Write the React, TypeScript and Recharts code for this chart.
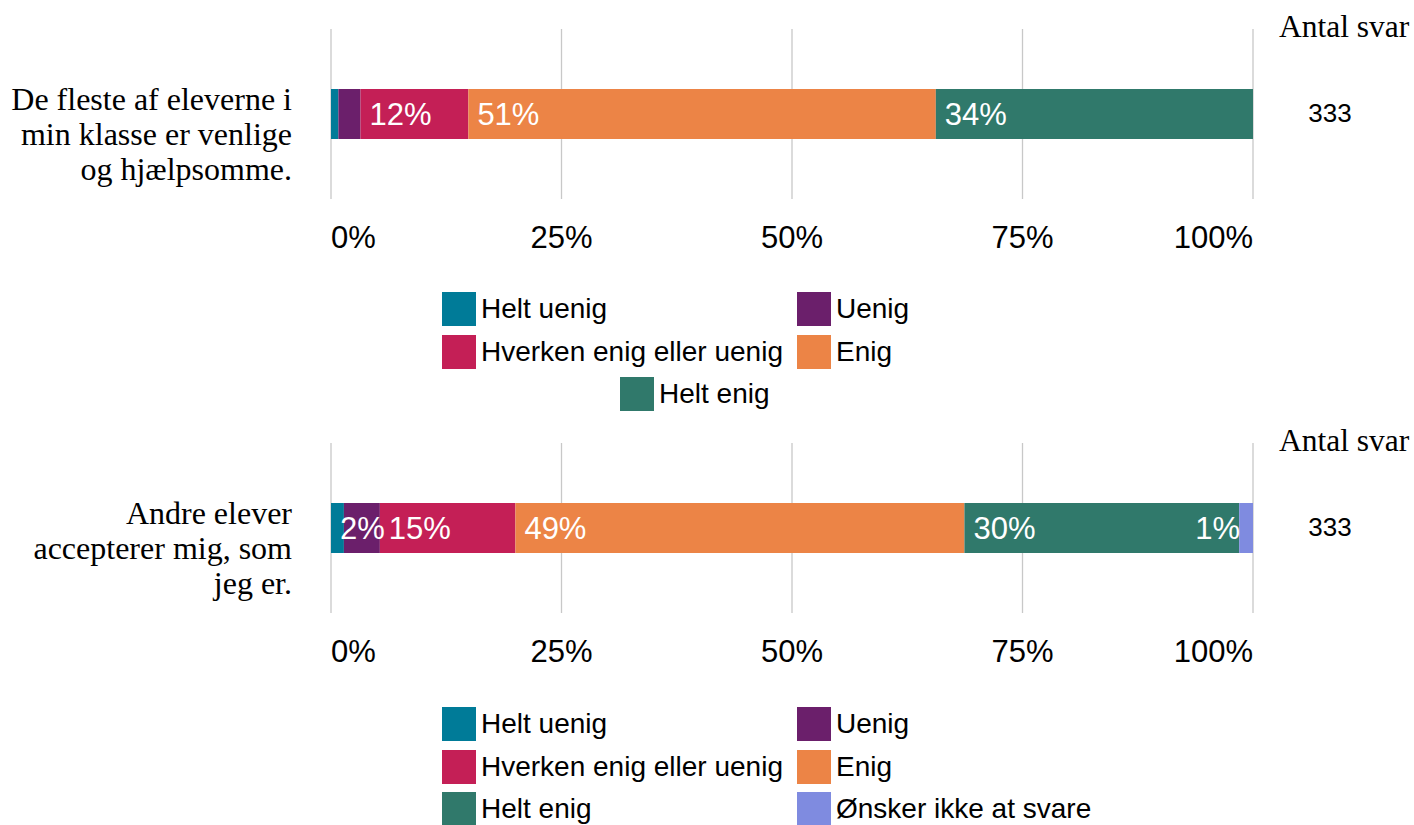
import React from "react";
import { BarChart, Bar, XAxis, YAxis, CartesianGrid, LabelList } from "recharts";

const SANS = "'Liberation Sans', Arial, sans-serif";
const SERIF = "'Liberation Serif', 'Times New Roman', serif";

const seriesNames = [
  "Helt uenig",
  "Uenig",
  "Hverken enig eller uenig",
  "Enig",
  "Helt enig",
  "Ønsker ikke at svare",
];
const seriesColors = ["#007B98", "#6B1F6B", "#C41F56", "#EC8446", "#30796B", "#7F8BE0"];

const xTicks = [0, 25, 50, 75, 100];

const q1Lines = ["De fleste af eleverne i", "min klasse er venlige", "og hjælpsomme."];
const q1Values = [0.8, 2.4, 11.7, 50.7, 34.4];
const q1Labels = ["", "", "12%", "51%", "34%"];
const q1Count = 333;

const q2Lines = ["Andre elever", "accepterer mig, som", "jeg er."];
const q2Values = [1.4, 3.9, 14.7, 48.7, 29.8, 1.5];
const q2Labels = ["2%", "", "15%", "49%", "30%", "1%"];
const q2Count = 333;

const W = 1414;
const PLOT_LEFT = 331;
const PLOT_RIGHT = 1253;

function XTick(props: any) {
  const { x, y, payload, index } = props;
  const anchor = index === 0 ? "start" : index === xTicks.length - 1 ? "end" : "middle";
  return (
    <text x={x} y={y + 38} textAnchor={anchor} dominantBaseline="central" fill="#000" fontSize={31} fontFamily={SANS}>
      {payload.value}%
    </text>
  );
}

function StackedQuestion({
  top,
  lines,
  values,
  labels,
  count,
  legendTop,
}: {
  top: number;
  lines: string[];
  values: number[];
  labels: string[];
  count: number;
  legendTop: number;
}) {
  const keys = values.map((_, i) => `s${i}`);
  const row: Record<string, any> = { name: lines.join(" ") };
  values.forEach((v, i) => (row[keys[i]] = v));
  const data = [row];
  const last = values.length - 1;

  const CatTick = (p: any) => {
    const { x, y } = p;
    return (
      <text x={x - 39} y={y} textAnchor="end" fill="#000" fontSize={32} fontFamily={SERIF}>
        {lines.map((l, i) => (
          <tspan key={i} x={x - 39} y={y + 20 + (i - 1) * 35} dominantBaseline="central">
            {l}
          </tspan>
        ))}
      </text>
    );
  };

  const makeLabel = (si: number) => (p: any) => {
    const { x, y, height } = p;
    const text = labels[si];
    if (!text) return null;
    const isLast = si === last && si === 5;
    return (
      <text
        x={isLast ? x + 1 : x + 9}
        y={y + height / 2}
        textAnchor={isLast ? "end" : "start"}
        dominantBaseline="central"
        fill="#fff"
        fontSize={31}
        fontFamily={SANS}
      >
        {text}
      </text>
    );
  };

  const legendItems = values.map((_, i) => ({ name: seriesNames[i], color: seriesColors[i] }));

  return (
    <>
      <div style={{ position: "absolute", left: 0, top }}>
        <BarChart
          width={W}
          height={260}
          data={data}
          layout="vertical"
          margin={{ top: 29, right: W - PLOT_RIGHT, bottom: 1, left: 0 }}
        >
          <CartesianGrid horizontal={false} stroke="#c8c8c8" strokeWidth={1.3} />
          <XAxis
            type="number"
            domain={[0, 100]}
            ticks={xTicks}
            axisLine={false}
            tickLine={false}
            tickSize={0}
            tickMargin={0}
            height={60}
            interval={0}
            tick={<XTick />}
          />
          <YAxis
            type="category"
            dataKey="name"
            width={PLOT_LEFT}
            axisLine={false}
            tickLine={false}
            tickSize={0}
            tickMargin={0}
            tick={<CatTick />}
          />
          {keys.map((k, i) => (
            <Bar key={k} dataKey={k} stackId="a" fill={seriesColors[i]} barSize={50} isAnimationActive={false}>
              <LabelList dataKey={k} content={makeLabel(i)} />
            </Bar>
          ))}
        </BarChart>
      </div>
      <div
        style={{
          position: "absolute",
          left: 1279,
          top: top + 27 - 18,
          fontFamily: SERIF,
          fontSize: 31.5,
          lineHeight: "36px",
          whiteSpace: "nowrap",
        }}
      >
        Antal svar
      </div>
      <div
        style={{
          position: "absolute",
          left: 1280,
          width: 100,
          textAlign: "center",
          top: top + 113 - 15,
          fontFamily: SANS,
          fontSize: 26,
          lineHeight: "30px",
        }}
      >
        {count}
      </div>
      {legendItems.map((it, i) => {
        const rowIdx = Math.floor(i / 2);
        const single = i === legendItems.length - 1 && legendItems.length % 2 === 1;
        const left = single ? 620 : i % 2 === 0 ? 442 : 797;
        return (
          <div
            key={it.name}
            style={{
              position: "absolute",
              left,
              top: legendTop + rowIdx * 42.5 - 17,
              height: 34,
              display: "flex",
              alignItems: "center",
              whiteSpace: "nowrap",
            }}
          >
            <div style={{ width: 34, height: 34, background: it.color }} />
            <span style={{ marginLeft: 5, fontFamily: SANS, fontSize: 28, color: "#000" }}>{it.name}</span>
          </div>
        );
      })}
    </>
  );
}

export default function App() {
  return (
    <div style={{ position: "fixed", left: 0, top: 0, width: W, height: 825, background: "#fff", overflow: "hidden" }}>
      <StackedQuestion top={0} lines={q1Lines} values={q1Values} labels={q1Labels} count={q1Count} legendTop={309} />
      <StackedQuestion top={414} lines={q2Lines} values={q2Values} labels={q2Labels} count={q2Count} legendTop={724} />
    </div>
  );
}
